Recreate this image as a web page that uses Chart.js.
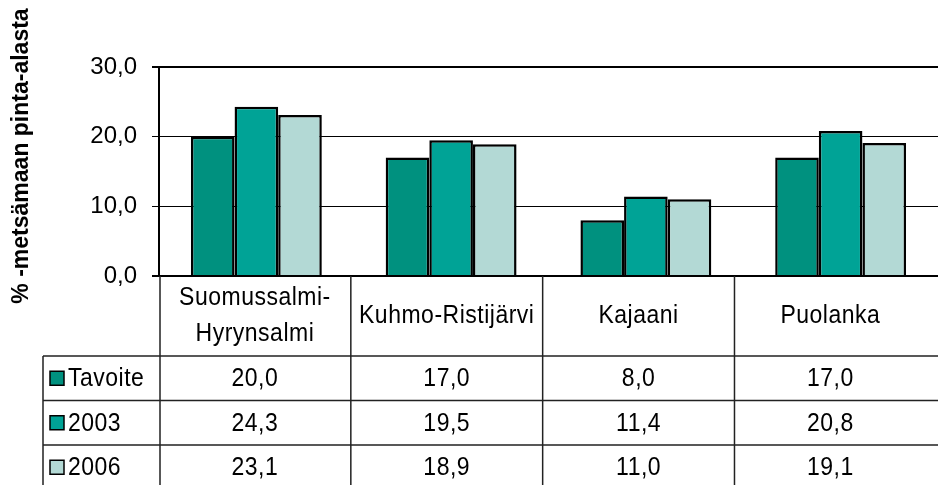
<!DOCTYPE html>
<html lang="fi">
  <head>
    <meta charset="UTF-8" />
    <title>Metsämaan pinta-ala</title>
    <script src="https://cdn.jsdelivr.net/npm/chart.js"></script>
    <style>
      body {
        margin: 0;
        background: #ffffff;
      }
      canvas {
        display: block;
      }
    </style>
  </head>
  <body>
    <canvas id="chart" width="938" height="485"></canvas>

    <script>
      // data
      const areas = [['Suomussalmi-', 'Hyrynsalmi'], 'Kuhmo-Ristijärvi', 'Kajaani', 'Puolanka'];
      const seriesNames = ['Tavoite', '2003', '2006'];
      const tavoite = [20.0, 17.0, 8.0, 17.0];
      const y2003 = [24.3, 19.5, 11.4, 20.8];
      const y2006 = [23.1, 18.9, 11.0, 19.1];
      const colors = ['#00917f', '#00a396', '#b3d9d5'];
      const yTicks = [0, 10, 20, 30];
      const yTitle = '% -metsämaan pinta-alasta';

      const FONT = "Arial, 'Liberation Sans', sans-serif";
      const fmt = v => v.toFixed(1).replace('.', ',');

      // text is a bit taller than wide in the original
      function tallText(ctx, text, x, y) {
        ctx.save();
        ctx.translate(x, y);
        ctx.scale(1, 1.1);
        ctx.fillText(text, 0, 0);
        ctx.restore();
      }

      // data table drawn under the plot, columns follow the x scale
      const tablePlugin = {
        id: 'dataTable',
        afterDraw(chart) {
          const ctx = chart.ctx;
          const area = chart.chartArea;
          const n = areas.length;
          const colW = (area.right - area.left) / n * 0.985;
          const headTop = area.bottom;
          const headBottom = headTop + 80;
          const rowH = 44.5;
          const legendLeft = 43;
          const H = chart.height;
          const W = chart.width;

          ctx.save();
          ctx.strokeStyle = '#222';
          ctx.lineWidth = 1.5;
          ctx.beginPath();
          for (let i = 0; i < n; i++) {
            const x = area.left + i * colW + (i === 0 ? 1 : 0);
            ctx.moveTo(x, headTop);
            ctx.lineTo(x, H);
          }
          ctx.moveTo(legendLeft, headBottom);
          ctx.lineTo(legendLeft, H);
          for (let r = 0; r < 3; r++) {
            const y = headBottom + r * rowH;
            ctx.moveTo(legendLeft, y);
            ctx.lineTo(W, y);
          }
          ctx.stroke();

          ctx.fillStyle = '#000';
          ctx.font = '23px ' + FONT;
          ctx.letterSpacing = '0.5px';
          ctx.textAlign = 'center';
          ctx.textBaseline = 'middle';

          // header: category names
          areas.forEach((lab, i) => {
            const cx = area.left + (i + 0.5) * colW;
            const lines = Array.isArray(lab) ? lab : [lab];
            const lh = 36;
            const y0 = (headTop + headBottom) / 2 - (lines.length - 1) * lh / 2;
            lines.forEach((t, k) => tallText(ctx, t, cx, y0 + k * lh));
          });

          // value rows with legend keys
          const series = [tavoite, y2003, y2006];
          series.forEach((vals, r) => {
            const cy = headBottom + r * rowH + rowH / 2 + 1;
            vals.forEach((v, i) => {
              const cx = area.left + (i + 0.5) * colW;
              ctx.textAlign = 'center';
              tallText(ctx, fmt(v), cx, cy);
            });
            ctx.fillStyle = colors[r];
            ctx.fillRect(50, cy - 8, 14, 14);
            ctx.strokeStyle = '#000';
            ctx.lineWidth = 1.5;
            ctx.strokeRect(50, cy - 8, 14, 14);
            ctx.fillStyle = '#000';
            ctx.textAlign = 'left';
            tallText(ctx, seriesNames[r], 68, cy);
          });

          // rotated axis title
          ctx.letterSpacing = '0px';
          ctx.font = 'bold 23px ' + FONT;
          ctx.translate(21, 156);
          ctx.rotate(-Math.PI / 2);
          ctx.scale(1, 1.08);
          ctx.textAlign = 'center';
          ctx.fillText(yTitle, 0, 0);
          ctx.restore();
        }
      };

      const ctx = document.getElementById('chart').getContext('2d');

      const chart = new Chart(ctx, {
        type: 'bar',
        data: {
          labels: areas,
          datasets: [tavoite, y2003, y2006].map((d, i) => ({
            label: seriesNames[i],
            data: d,
            backgroundColor: colors[i],
            borderColor: '#000',
            borderWidth: 2.5,
            barPercentage: 1,
            categoryPercentage: 0.672
          }))
        },
        options: {
          responsive: false,
          animation: false,
          layout: {
            padding: { left: 0, right: 0, top: 67, bottom: 209 }
          },
          plugins: {
            legend: { display: false },
            tooltip: { enabled: false }
          },
          scales: {
            x: {
              display: false
            },
            y: {
              min: 0,
              max: 30,
              afterFit(scale) {
                scale.width = 159;
              },
              afterBuildTicks(scale) {
                scale.ticks = yTicks.map(v => ({ value: v }));
              },
              border: { display: true, color: '#000', width: 2 },
              grid: {
                color: '#000',
                lineWidth: c => (c.tick && (c.tick.value === 0 || c.tick.value === 30) ? 2 : 1),
                tickLength: 7
              },
              ticks: {
                padding: 15,
                color: '#000',
                font: { family: FONT, size: 24 },
                callback: v => fmt(v)
              }
            }
          }
        },
        plugins: [tablePlugin]
      });
    </script>
  </body>
</html>
